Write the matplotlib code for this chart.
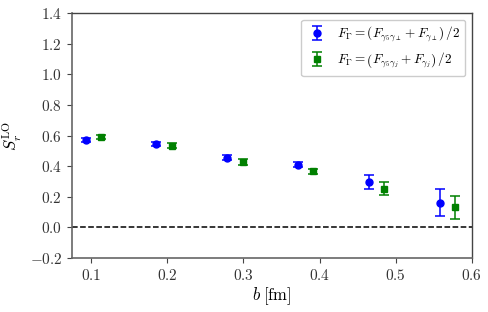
import numpy as np
import matplotlib
matplotlib.use("Agg")
import matplotlib.pyplot as plt

plt.rcParams["font.family"] = "serif"
plt.rcParams["font.serif"] = ["cmr10"]
plt.rcParams["mathtext.fontset"] = "cm"
plt.rcParams["axes.formatter.use_mathtext"] = True
plt.rcParams["font.size"] = 11

b_perp = [0.093, 0.186, 0.279, 0.372, 0.465, 0.558]
s_perp = [0.569, 0.543, 0.454, 0.410, 0.297, 0.161]
err_perp = [0.014, 0.014, 0.016, 0.017, 0.046, 0.089]

b_j = [0.113, 0.206, 0.299, 0.392, 0.485, 0.578]
s_j = [0.591, 0.534, 0.427, 0.366, 0.253, 0.131]
err_j = [0.014, 0.015, 0.017, 0.017, 0.041, 0.074]

label_perp = r"$F_\Gamma = (F_{\gamma_5\gamma_\perp} + F_{\gamma_\perp})\,/2$"
label_j = r"$F_\Gamma = \left(F_{\gamma_5\gamma_j} + F_{\gamma_j}\right)\,/2$"

fig = plt.figure(figsize=(4.89, 3.12), dpi=100)
ax = fig.add_axes([0.147, 0.173, 0.818, 0.785])

ax.errorbar(b_perp, s_perp, yerr=err_perp, fmt="o", color="blue", ms=5,
            capsize=3.5, elinewidth=1.1, capthick=1.1, label=label_perp)
ax.errorbar(b_j, s_j, yerr=err_j, fmt="s", color="green", ms=5,
            capsize=3.5, elinewidth=1.1, capthick=1.1, label=label_j)
ax.axhline(0.0, color="black", ls="--", lw=1.1)

ax.set_xlim(0.075, 0.6)
ax.set_ylim(-0.2, 1.4)
ax.set_xticks(np.arange(0.1, 0.61, 0.1))
ax.set_yticks(np.arange(-0.2, 1.41, 0.2))
ax.set_xlabel(r"$b\;[\mathrm{fm}]$", fontsize=12, labelpad=2)
ax.set_ylabel(r"$S_r^{\mathrm{LO}}$", fontsize=12, labelpad=4)

for side in ["left", "bottom"]:
    ax.spines[side].set_color("#666666")
    ax.spines[side].set_linewidth(1.2)
for side in ["top", "right"]:
    ax.spines[side].set_color("#444444")
    ax.spines[side].set_linewidth(1.0)
ax.tick_params(colors="#444444", labelcolor="#333333", length=3.5)

ax.legend(loc="upper right", fontsize=9.5, framealpha=1.0,
          handletextpad=0.7, handlelength=1.6)

fig.savefig("out.png", dpi=100)
